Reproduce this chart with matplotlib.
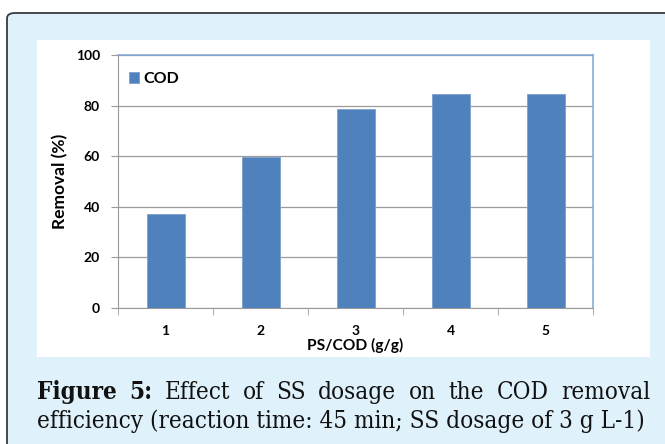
import matplotlib
matplotlib.use("Agg")
import matplotlib.pyplot as plt
import numpy as np
from matplotlib.patches import FancyBboxPatch, Rectangle

ratios = ["1", "2", "3", "4", "5"]
cod_removal = [37, 59.5, 78.5, 84.5, 84.5]

BAR, BG, GRID, FRAME = "#4f81bd", "#dff1fb", "#9a9a9a", "#7fa7d9"
W, H = 665, 444
fig = plt.figure(figsize=(W / 100, H / 100), dpi=100)
fig.patch.set_facecolor("white")

def px(x, y):  # pixel (top-left origin) -> figure fraction
    return x / W, 1 - y / H

# light blue panel with rounded dark border, running off the right/bottom
fig.add_artist(FancyBboxPatch(px(7, 470), (680 - 7) / W, (470 - 13) / H,
                              boxstyle="round,pad=0,rounding_size=0.012",
                              transform=fig.transFigure, facecolor=BG,
                              edgecolor="#3a3a3a", lw=1.3, zorder=-2))
# white chart area
fig.add_artist(Rectangle(px(37, 357), (650 - 37) / W, (357 - 40) / H,
                         transform=fig.transFigure, facecolor="white", ec="none", zorder=-1))

ax = fig.add_axes([118 / W, 1 - 308 / H, (593 - 118) / W, (308 - 55) / H])
ax.set_facecolor("white")
x = np.arange(len(ratios))
ax.bar(x, cod_removal, 0.4, color=BAR, edgecolor="#7d9fcc", lw=0.6, zorder=3, label="COD")
ax.set_xlim(-0.5, len(ratios) - 0.5)
ax.set_ylim(0, 100)
ax.set_yticks(np.arange(0, 101, 20))
ax.yaxis.grid(True, color=GRID, lw=0.9, zorder=0)
ax.set_xticks(x)
ax.set_xticklabels(ratios)
ax.set_xticks(np.arange(-0.5, len(ratios)), minor=True)
ax.tick_params(axis="x", which="major", length=0, pad=12)
ax.tick_params(axis="x", which="minor", length=5, color=GRID)
ax.tick_params(axis="y", length=5, color=GRID, pad=8)
for lab in ax.get_xticklabels() + ax.get_yticklabels():
    lab.set_fontfamily("Lato"); lab.set_fontweight("bold"); lab.set_fontsize(10)
for sp in ("left", "bottom"):
    ax.spines[sp].set_color(GRID)
for sp in ("top", "right"):
    ax.spines[sp].set_color(FRAME)
    ax.spines[sp].set_linewidth(1.1)
ax.set_xlabel("PS/COD (g/g)", fontfamily="Lato", fontweight="bold", fontsize=11.2, labelpad=1)
ax.set_ylabel("Removal (%)", fontfamily="Lato", fontweight="bold", fontsize=12.5, labelpad=5)
leg = ax.legend(loc="center left", bbox_to_anchor=(11 / 475, 1 - 24 / 253),
                frameon=False, borderpad=0, borderaxespad=0,
                handlelength=0.63, handleheight=0.63, handletextpad=0.25,
                prop={"family": "Lato", "weight": "bold", "size": 11.5})

# caption: second line sized to its width in the reference, first line justified
SERIF = "DejaVu Serif"
fig.canvas.draw()
r = fig.canvas.get_renderer()
l2 = fig.text(37 / W, 1 - 428 / H, "efficiency (reaction time: 45 min; SS dosage of 3 g L-1)",
              fontsize=12, fontfamily=SERIF, fontstretch="condensed", color="#111111",
              va="baseline")
CS = 12 * (645 - 37) / l2.get_window_extent(r).width
l2.set_fontsize(CS)
line1 = [("Figure", "bold"), ("5:", "bold"), ("Effect", "normal"), ("of", "normal"),
         ("SS", "normal"), ("dosage", "normal"), ("on", "normal"), ("the", "normal"),
         ("COD", "normal"), ("removal", "normal")]
texts, widths = [], []
for w, wt in line1:
    t = fig.text(0, 1 - 399 / H, w, fontsize=CS, fontfamily=SERIF, fontweight=wt,
                 fontstretch="condensed", color="#111111", va="baseline")
    texts.append(t)
    widths.append(t.get_window_extent(r).width)
gap = (650 - 37 - sum(widths)) / (len(texts) - 1)
xx = 37
for t, wd in zip(texts, widths):
    t.set_x(xx / W)
    xx += wd + gap

fig.savefig("out.png", dpi=100, facecolor="white")
